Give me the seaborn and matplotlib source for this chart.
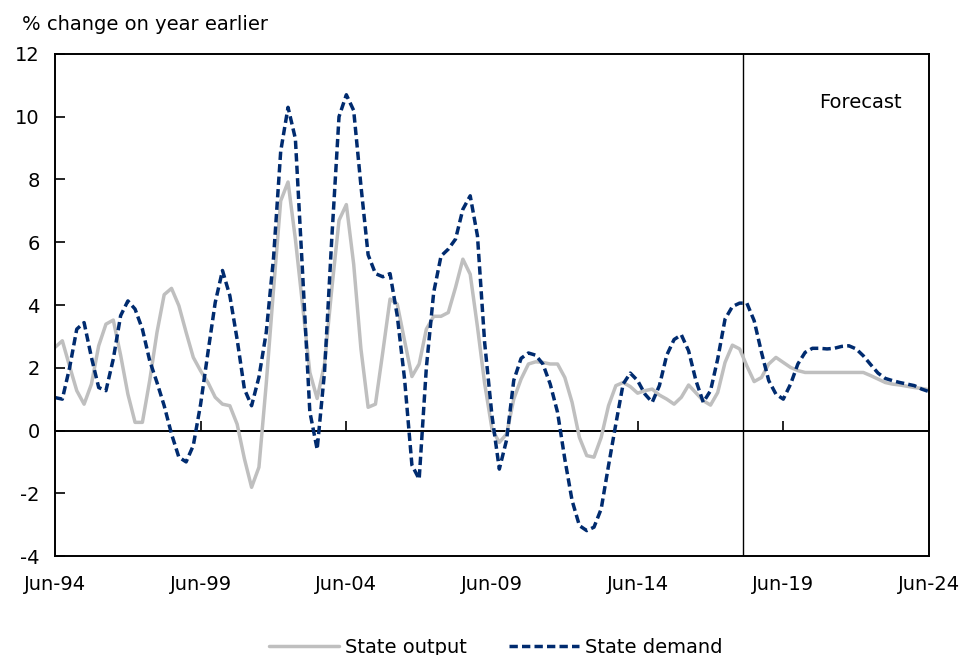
import matplotlib
matplotlib.use("Agg")
import matplotlib.pyplot as plt
import matplotlib.dates as mdates
import pandas as pd
import seaborn as sns

# Quarterly, Jun-94 to Jun-24 (% change on year earlier)
quarters = pd.date_range("1994-06-01", periods=121, freq="3MS")

state_output = [
    2.65, 2.86, 2.05, 1.27, 0.84, 1.48, 2.70, 3.39, 3.52, 2.40,
    1.16, 0.26, 0.26, 1.60, 3.13, 4.33, 4.53, 3.98, 3.13, 2.33,
    1.90, 1.53, 1.06, 0.84, 0.79, 0.20, -0.90, -1.81, -1.17, 1.50,
    4.50, 7.32, 7.92, 6.10, 3.98, 1.85, 1.02, 2.12, 4.50, 6.70,
    7.20, 5.30, 2.60, 0.74, 0.84, 2.50, 4.19, 4.03, 2.86, 1.72,
    2.12, 3.23, 3.64, 3.64, 3.76, 4.56, 5.46, 4.98, 3.30, 1.50,
    0.05, -0.38, -0.11, 1.00, 1.64, 2.12, 2.19, 2.17, 2.12, 2.12,
    1.69, 0.90, -0.22, -0.80, -0.85, -0.22, 0.79, 1.43, 1.53, 1.40,
    1.19, 1.27, 1.32, 1.13, 1.00, 0.84, 1.06, 1.45, 1.20, 0.95,
    0.81, 1.21, 2.17, 2.72, 2.60, 2.06, 1.56, 1.69, 2.12, 2.33,
    2.17, 2.01, 1.91, 1.85, 1.85, 1.85, 1.85, 1.85, 1.85, 1.85,
    1.85, 1.85, 1.75, 1.64, 1.53, 1.48, 1.45, 1.41, 1.37, 1.34,
    1.30,
]

state_demand = [
    1.05, 1.00, 2.00, 3.23, 3.44, 2.33, 1.37, 1.27, 2.28, 3.66,
    4.13, 3.87, 3.23, 2.22, 1.53, 0.79, -0.11, -0.85, -1.00, -0.48,
    0.84, 2.49, 4.08, 5.10, 4.30, 2.90, 1.32, 0.79, 1.70, 3.13,
    5.50, 8.90, 10.30, 9.30, 5.00, 0.60, -0.60, 1.85, 6.10, 10.00,
    10.70, 10.20, 7.80, 5.60, 5.00, 4.90, 5.00, 3.66, 1.64, -1.10,
    -1.55, 2.00, 4.40, 5.56, 5.78, 6.10, 7.05, 7.48, 6.20, 2.80,
    0.47, -1.23, -0.30, 1.60, 2.30, 2.47, 2.40, 2.12, 1.48, 0.58,
    -0.91, -2.23, -3.03, -3.19, -3.08, -2.50, -1.12, 0.21, 1.48, 1.83,
    1.59, 1.16, 0.90, 1.43, 2.40, 2.90, 3.05, 2.54, 1.59, 0.90,
    1.27, 2.28, 3.55, 3.95, 4.06, 4.06, 3.50, 2.49, 1.59, 1.16,
    1.00, 1.48, 2.12, 2.49, 2.62, 2.62, 2.60, 2.62, 2.68, 2.70,
    2.60, 2.38, 2.10, 1.83, 1.66, 1.59, 1.53, 1.48, 1.43, 1.32,
    1.24,
]

forecast_start = pd.Timestamp("2018-01-15")
tick_dates = quarters[::20]

df = pd.DataFrame({"date": quarters, "State output": state_output,
                   "State demand": state_demand})

sns.set_style("white")
plt.rcParams["font.family"] = ["DejaVu Sans"]
plt.rcParams["axes.unicode_minus"] = False
plt.rcParams["text.color"] = "black"
plt.rcParams["xtick.color"] = "black"
plt.rcParams["ytick.color"] = "black"
plt.rcParams["xtick.labelcolor"] = "black"
plt.rcParams["ytick.labelcolor"] = "black"
fs = 14

fig = plt.figure(figsize=(9.68, 6.55), dpi=100)
ax = fig.add_axes([0.0568, 0.1511, 0.9029, 0.7665])

sns.lineplot(data=df, x="date", y="State output", ax=ax, color="#BFBFBF",
             linewidth=2.5, label="State output")
sns.lineplot(data=df, x="date", y="State demand", ax=ax, color="#002B6F",
             linewidth=2.5, linestyle=(0, (2.4, 1.2)), label="State demand")

ax.axhline(0, color="black", linewidth=1.4, zorder=1)
ax.axvline(forecast_start, color="black", linewidth=1.0, zorder=1)

ax.set_xlim(quarters[0], quarters[-1])
ax.set_ylim(-4, 12)
ax.set_yticks(range(-4, 13, 2))
ax.set_xticks(tick_dates)
ax.xaxis.set_major_formatter(mdates.DateFormatter("%b-%y"))
ax.tick_params(axis="x", length=0, pad=14, labelsize=fs, labelcolor="black")
ax.tick_params(axis="y", direction="in", length=7, width=1.2, pad=11,
               labelsize=fs, left=True, color="black", labelcolor="black")
ax.set_xlabel("")
ax.set_ylabel("")

for s in ax.spines.values():
    s.set_color("black")
    s.set_linewidth(1.4)

# small tick marks sitting on the zero line
sec = ax.secondary_xaxis(0.25)
sec.set_xticks(tick_dates)
sec.tick_params(direction="in", length=7, width=1.2, labelbottom=False,
                color="black")
sec.spines["bottom"].set_visible(False)

ax.text(0.969, 0.904, "Forecast", transform=ax.transAxes, ha="right",
        va="center", fontsize=fs, color="black")
fig.text(0.0227, 0.962, "% change on year earlier", ha="left", va="center",
         fontsize=fs, color="black")

ax.get_legend().remove()
handles, labels = ax.get_legend_handles_labels()
leg = fig.legend(handles, labels, loc="center", bbox_to_anchor=(0.512, 0.012),
                 ncol=2, frameon=False, fontsize=fs, handlelength=3.6,
                 handletextpad=0.3, columnspacing=2.2)
for t in leg.get_texts():
    t.set_color("black")

fig.savefig("out.png", dpi=100)
